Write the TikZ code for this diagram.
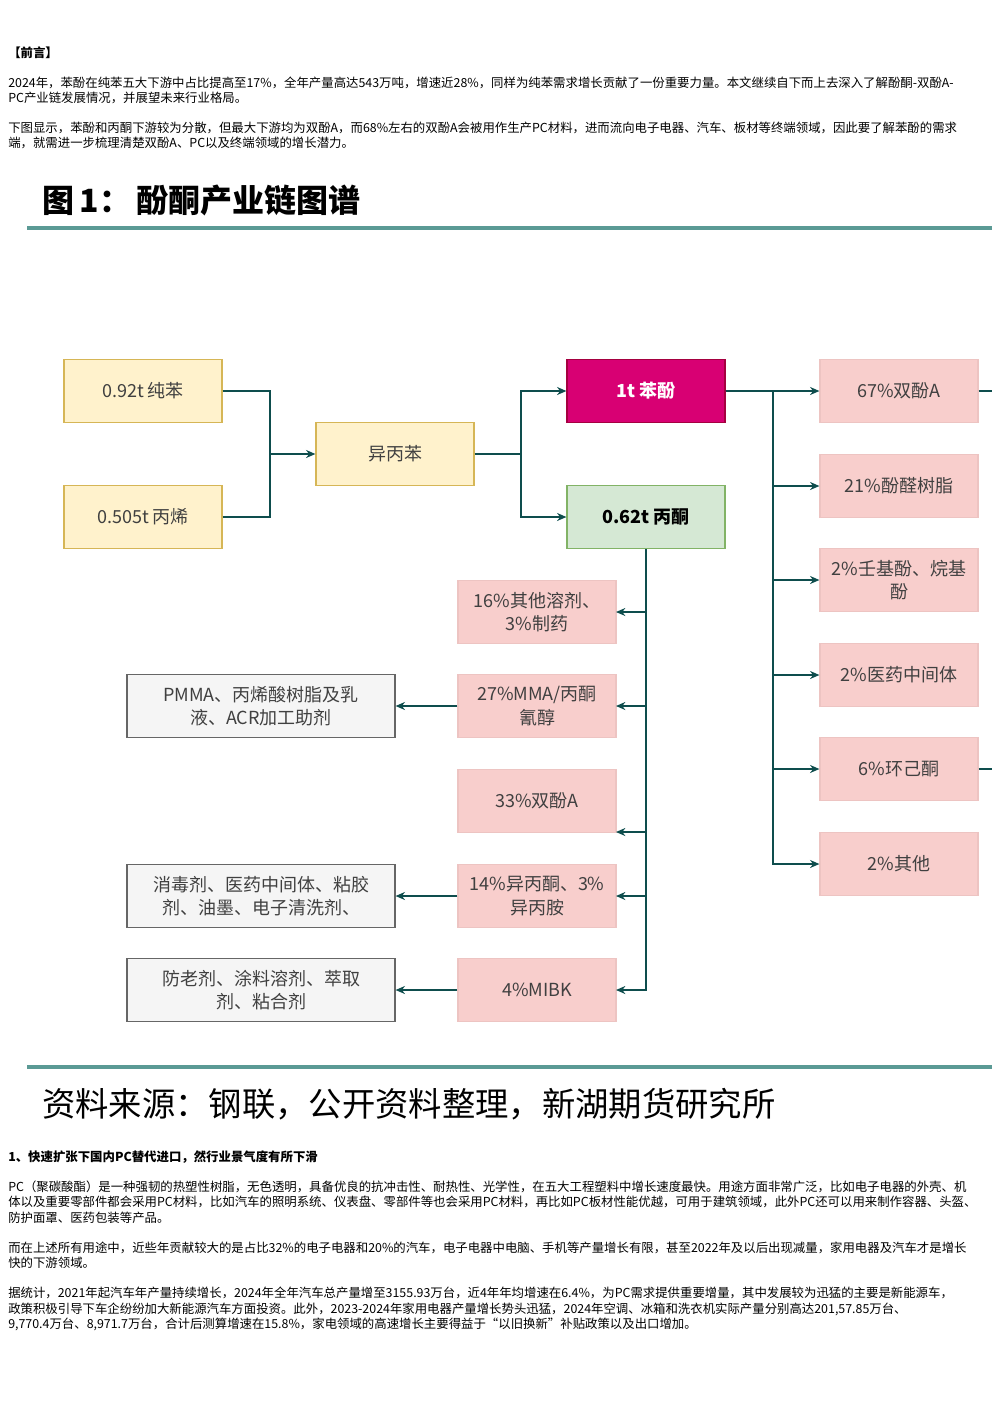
\documentclass[tikz,border=0pt]{standalone}
\usepackage{fontspec}
\setmainfont{Noto Sans CJK SC}
\usetikzlibrary{arrows.meta}
\definecolor{teal}{HTML}{0E4D4D}
\definecolor{rule}{HTML}{5B9A95}
\definecolor{yel}{HTML}{FFF2CC}
\definecolor{yelb}{HTML}{D6B656}
\definecolor{grn}{HTML}{D5E8D4}
\definecolor{grnb}{HTML}{82B366}
\definecolor{pnk}{HTML}{F8CECC}
\definecolor{pnkb}{HTML}{EDC4C2}
\definecolor{mag}{HTML}{D80073}
\definecolor{mgb}{HTML}{A50040}

\begin{document}
\begin{tikzpicture}[x=0.75pt,y=-0.75pt,
  box/.style={draw,line width=0.9pt,minimum width=118.5pt,minimum height=47.5pt,inner sep=1pt,align=center,font=\fontsize{13.5}{17.5}\selectfont,text=black!75},
  raw/.style={box,fill=yel,draw=yelb},
  prod/.style={box,fill=pnk,draw=pnkb},
  enduse/.style={box,fill=black!4,draw=black!60,minimum width=201pt},
  body/.style={anchor=west,inner sep=0pt,font=\fontsize{9.3}{11}\selectfont},
  link/.style={teal,line width=1.1pt},
  arr/.style={link,-{Stealth[length=7pt,width=6pt]}}]
\useasboundingbox (0,0) rectangle (992,1403);
\fill[white] (0,0) rectangle (992,1403);
% text above
\node[body,font=\fontsize{9.3}{11}\selectfont\bfseries] (pre) at (8,53) {【前言】};
\node[body] (p1) at (8,83) {2024年，苯酚在纯苯五大下游中占比提高至17\%，全年产量高达543万吨，增速近28\%，同样为纯苯需求增长贡献了一份重要力量。本文继续自下而上去深入了解酚酮-双酚A-};
\node[body] (p2) at (8,98) {PC产业链发展情况，并展望未来行业格局。};
\node[body] (p3) at (8,128) {下图显示，苯酚和丙酮下游较为分散，但最大下游均为双酚A，而68\%左右的双酚A会被用作生产PC材料，进而流向电子电器、汽车、板材等终端领域，因此要了解苯酚的需求};
\node[body] (p4) at (8,143) {端，就需进一步梳理清楚双酚A、PC以及终端领域的增长潜力。};
% figure title
\node[anchor=west,inner sep=0pt,font=\fontsize{24}{26}\selectfont\bfseries] (ttl) at (42,200) {图\,1：\,酚酮产业链图谱};
\draw[rule,line width=3pt] (27,228) -- (992,228);
\draw[rule,line width=3pt] (27,1067) -- (992,1067);
% chain
\node[raw] (ben) at (143,391) {0.92t 纯苯};
\node[raw] (bx) at (143,517) {0.505t 丙烯};
\node[raw] (yb) at (395,454) {异丙苯};
\node[box,fill=mag,draw=mgb,text=white,font=\fontsize{13.5}{17.5}\selectfont\bfseries] (phe) at (646,391) {1t 苯酚};
\node[box,fill=grn,draw=grnb,text=black,font=\fontsize{13.5}{17.5}\selectfont\bfseries] (ace) at (646,517) {0.62t 丙酮};
% phenol outlets
\node[prod] (r1) at (899,391) {67\%双酚A};
\node[prod] (r2) at (899,486) {21\%酚醛树脂};
\node[prod] (r3) at (899,580) {2\%壬基酚、烷基\\酚};
\node[prod] (r4) at (899,675) {2\%医药中间体};
\node[prod] (r5) at (899,769) {6\%环己酮};
\node[prod] (r6) at (899,864) {2\%其他};
% acetone outlets
\node[prod] (m1) at (537,612) {16\%其他溶剂、\\3\%制药};
\node[prod] (m2) at (537,706) {27\%MMA/丙酮\\氰醇};
\node[prod] (m3) at (537,801) {33\%双酚A};
\node[prod] (m4) at (537,896) {14\%异丙酮、3\%\\异丙胺};
\node[prod] (m5) at (537,990) {4\%MIBK};
\node[enduse] (u2) at (261,706) {PMMA、丙烯酸树脂及乳\\液、ACR加工助剂};
\node[enduse] (u4) at (261,896) {消毒剂、医药中间体、粘胶\\剂、油墨、电子清洗剂、};
\node[enduse] (u5) at (261,990) {防老剂、涂料溶剂、萃取\\剂、粘合剂};
% connectors
\draw[arr] (ben.east) -| (270,454) -- (yb.west);
\draw[link] (bx.east) -| (270,454);
\draw[arr] (yb.east) -| (521,391) -- (phe.west);
\draw[arr] (521,454) |- (ace.west);
\foreach \r in {r1,r2,r3,r4,r5,r6}
  \draw[arr] (phe.east) -| (773,391) |- (\r.west);
\coordinate (e1) at (992,391);
\coordinate (e5) at (992,769);
\draw[link] (r1.east) -- (e1);
\draw[link] (r5.east) -- (e5);
\coordinate (drop) at (646,990);
\foreach \m/\y in {m1/612,m2/706,m3/832,m4/896,m5/990}
  \draw[arr] (ace.south) -- (drop) |- (616,\y);
\foreach \m/\u in {m2/u2,m4/u4,m5/u5}
  \draw[arr] (\m.west) -- (\u.east);
% source
\node[anchor=west,inner sep=0pt,font=\fontsize{25}{27}\selectfont] (src) at (42,1104) {资料来源：钢联，公开资料整理，新湖期货研究所};
% text below
\node[body,font=\fontsize{9.3}{11}\selectfont\bfseries] (h1) at (8,1157) {1、快速扩张下国内PC替代进口，然行业景气度有所下滑};
\node[body] (q1) at (8,1187) {PC（聚碳酸酯）是一种强韧的热塑性树脂，无色透明，具备优良的抗冲击性、耐热性、光学性，在五大工程塑料中增长速度最快。用途方面非常广泛，比如电子电器的外壳、机};
\node[body] (q2) at (8,1202) {体以及重要零部件都会采用PC材料，比如汽车的照明系统、仪表盘、零部件等也会采用PC材料，再比如PC板材性能优越，可用于建筑领域，此外PC还可以用来制作容器、头盔、};
\node[body] (q3) at (8,1218) {防护面罩、医药包装等产品。};
\node[body] (q4) at (8,1248) {而在上述所有用途中，近些年贡献较大的是占比32\%的电子电器和20\%的汽车，电子电器中电脑、手机等产量增长有限，甚至2022年及以后出现减量，家用电器及汽车才是增长};
\node[body] (q5) at (8,1263) {快的下游领域。};
\node[body] (q6) at (8,1293) {据统计，2021年起汽车年产量持续增长，2024年全年汽车总产量增至3155.93万台，近4年年均增速在6.4\%，为PC需求提供重要增量，其中发展较为迅猛的主要是新能源车，};
\node[body] (q7) at (8,1309) {政策积极引导下车企纷纷加大新能源汽车方面投资。此外，2023-2024年家用电器产量增长势头迅猛，2024年空调、冰箱和洗衣机实际产量分别高达201,57.85万台、};
\node[body] (q8) at (8,1324) {9,770.4万台、8,971.7万台，合计后测算增速在15.8\%，家电领域的高速增长主要得益于“以旧换新”补贴政策以及出口增加。};
\end{tikzpicture}
\end{document}
